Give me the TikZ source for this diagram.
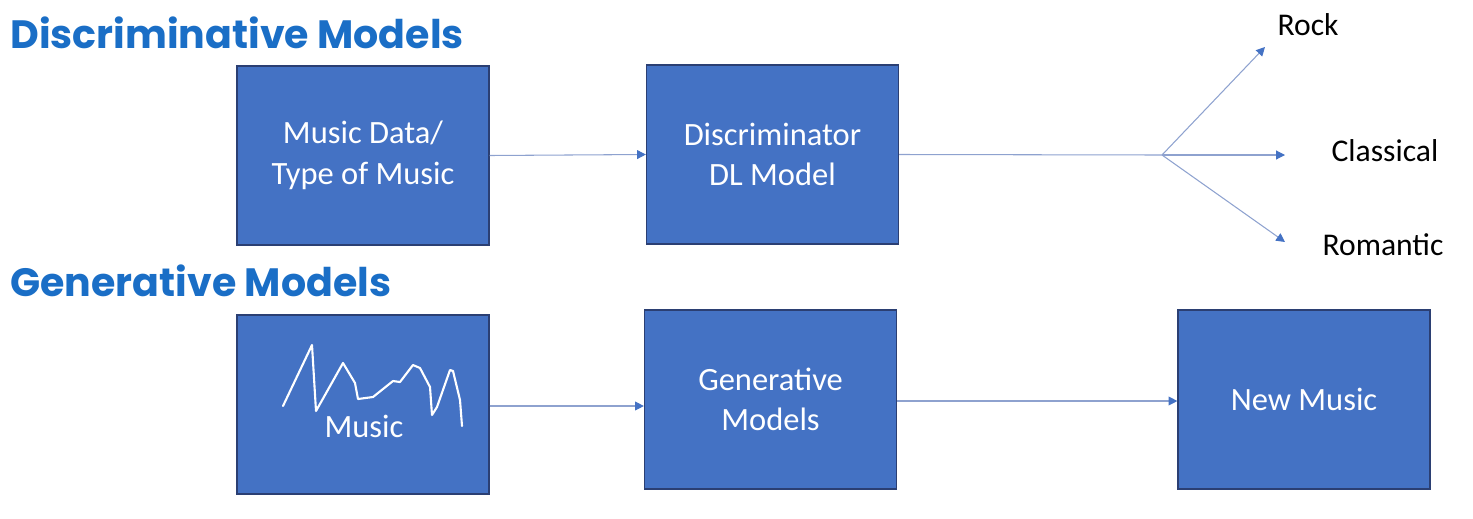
\documentclass[tikz,border=0pt]{standalone}
\usepackage{fontspec}
\setmainfont{Carlito}
\newfontfamily\headfont{Poppins}
\usetikzlibrary{arrows.meta}
\usetikzlibrary{positioning}
\definecolor{boxblue}{HTML}{4472C4}
\definecolor{boxedge}{HTML}{2B3F73}
\definecolor{headblue}{HTML}{1A6EC6}
\definecolor{linkblue}{HTML}{8EA2CF}

\begin{document}
\begin{tikzpicture}[x=0.02cm,y=-0.02cm]
  \tikzset{
    box/.style={draw=boxedge,line width=0.7pt,fill=boxblue,minimum width=5.04cm,minimum height=3.58cm,inner sep=0pt},
    boxtext/.style={text=white,align=center,font=\fontsize{18.5}{23}\selectfont},
    heading/.style={text=headblue,anchor=west,inner sep=0pt,font=\headfont\bfseries\fontsize{22.5}{26}\selectfont},
    classname/.style={text=black,inner sep=0pt,font=\fontsize{18}{21}\selectfont},
    link/.style={draw=linkblue,line width=0.6pt,-{Triangle[length=5pt,width=5pt,fill=boxblue,color=boxblue]}}
  }
    \useasboundingbox (0,0) rectangle (1473,518);
    %HEADINGS
    \node[heading] (dischead) at (10,33) {Discriminative Models};
    \node[heading] (genhead) at (10,281) {Generative Models};

    %DISCRIMINATIVE ROW
    \node[box,boxtext] (data) at (363,155.5) {Music Data/\\Type of Music};
    \node[box,boxtext] (disc) at (772.5,154.5) {Discriminator\\DL Model};
    \coordinate (split) at (1162,155);
    \coordinate (rockend) at (1265,47);
    \coordinate (classend) at (1285,155);
    \coordinate (romend) at (1285,242);
    \node[classname] (rock) at (1308,25) {Rock};
    \node[classname] (classical) at (1385,151) {Classical};
    \node[classname] (romantic) at (1383,245) {Romantic};

    \draw[link] (data.east) -- (disc.west);
    \draw[draw=linkblue,line width=0.6pt] (disc.east) -- (split);
    \foreach \e in {rockend,classend,romend} {
      \draw[link] (split) -- (\e);
    }

    %GENERATIVE ROW
    \node[box] (music) at (363,404.5) {};
    \draw[white,line width=1.2pt,line join=round,line cap=round]
      (283,406) -- (312,345) -- (316,411) -- (343,363) -- (355,383) -- (358,399)
      -- (373,397) -- (393,381) -- (400,382) -- (413,365) -- (420,368) -- (430,387)
      -- (432,415) -- (437,407) -- (450,370) -- (453,371) -- (460,400) -- (462,426);
    \node[boxtext] (musiclabel) at (364,426) {Music};
    \node[box,boxtext] (gen) at (770.5,399.5) {Generative\\Models};
    \node[box,boxtext] (new) at (1304,399.5) {New Music};

    \draw[link] (music.east |- 0,406) -- (gen.west |- 0,406);
    \draw[link] (gen.east |- 0,401) -- (new.west |- 0,401);
  \end{tikzpicture}
\end{document}
